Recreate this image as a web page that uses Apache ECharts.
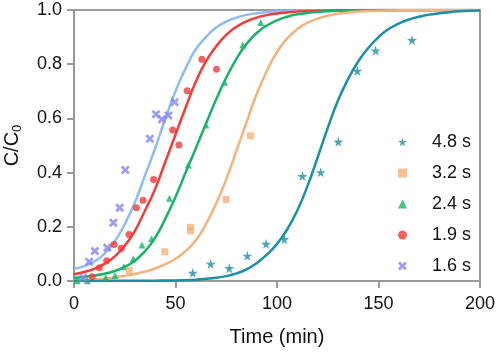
<!DOCTYPE html>
<html>
<head>
  <meta charset="UTF-8">
  <title>Breakthrough curves</title>
  <script src="https://cdn.jsdelivr.net/npm/echarts@6/dist/echarts.min.js"></script>
  <style>
    html, body { margin: 0; padding: 0; background: #fff; }
    #chart { width: 498px; height: 352px; }
  </style>
</head>
<body>
  <div id="chart"></div>
  <script type="text/javascript">
    // measured points (time in min, C/C0)
    var t48 = [58.5, 67.3, 76.5, 85.4, 94.6, 103.6, 112.5, 121.5, 130.2, 139.6, 148.6, 166.5];
    var c48 = [0.030, 0.063, 0.047, 0.093, 0.137, 0.154, 0.387, 0.401, 0.514, 0.775, 0.850, 0.889];
    var t32 = [27.2, 44.8, 57.4, 57.4, 74.9, 86.9];
    var c32 = [0.038, 0.108, 0.185, 0.198, 0.301, 0.536];
    var t24 = [1.6, 6.6, 15.6, 20.2, 24.5, 29.2, 33.5, 38.2, 47.0, 56.3, 65.0, 74.2, 83.1, 92.0];
    var c24 = [0.001, 0.001, 0.012, 0.020, 0.053, 0.082, 0.133, 0.156, 0.305, 0.428, 0.576, 0.733, 0.871, 0.954];
    var t19 = [9.0, 12.5, 16.1, 19.7, 23.3, 27.1, 30.7, 34.0, 39.2, 48.6, 51.7, 55.8, 63.0, 70.2];
    var c19 = [0.016, 0.049, 0.075, 0.135, 0.121, 0.172, 0.270, 0.298, 0.375, 0.557, 0.502, 0.702, 0.818, 0.781];
    var t16 = [4.6, 7.5, 10.3, 16.4, 19.4, 22.5, 25.3, 37.4, 40.4, 43.3, 46.5, 49.6];
    var c16 = [0.012, 0.071, 0.111, 0.123, 0.215, 0.270, 0.410, 0.525, 0.615, 0.597, 0.611, 0.660];

    // fitted curves, read every 5 min from 0 to 200
    var fitTime = [0, 5, 10, 15, 20, 25, 30, 35, 40, 45, 50, 55, 60, 65, 70, 75, 80, 85, 90, 95,
      100, 105, 110, 115, 120, 125, 130, 135, 140, 145, 150, 155, 160, 165, 170, 175, 180, 185, 190, 195, 200];
    var fit48 = [0.000, 0.000, 0.000, 0.000, 0.001, 0.001, 0.001, 0.001, 0.001, 0.002, 0.002, 0.003, 0.005, 0.008,
      0.012, 0.018, 0.028, 0.043, 0.066, 0.097, 0.137, 0.190, 0.260, 0.350, 0.455, 0.565, 0.665, 0.745, 0.810,
      0.860, 0.900, 0.930, 0.950, 0.965, 0.975, 0.983, 0.988, 0.992, 0.995, 0.997, 0.998];
    var fit32 = [0.003, 0.004, 0.006, 0.009, 0.013, 0.019, 0.026, 0.035, 0.046, 0.062, 0.082, 0.110, 0.150, 0.210,
      0.285, 0.375, 0.480, 0.585, 0.690, 0.775, 0.845, 0.895, 0.930, 0.953, 0.968, 0.979, 0.986, 0.991, 0.994,
      0.996, 0.997, 0.998, 0.999, 0.999, 1, 1, 1, 1, 1, 1, 1];
    var fit24 = [0.012, 0.015, 0.020, 0.027, 0.037, 0.052, 0.075, 0.110, 0.160, 0.230, 0.310, 0.400, 0.490, 0.580,
      0.670, 0.750, 0.820, 0.875, 0.915, 0.943, 0.962, 0.975, 0.984, 0.989, 0.993, 0.995, 0.997, 0.998, 0.999,
      0.999, 1, 1, 1, 1, 1, 1, 1, 1, 1, 1, 1];
    var fit19 = [0.025, 0.033, 0.045, 0.063, 0.090, 0.130, 0.185, 0.260, 0.340, 0.440, 0.540, 0.640, 0.735, 0.810,
      0.865, 0.908, 0.938, 0.958, 0.972, 0.981, 0.987, 0.991, 0.994, 0.996, 0.997, 0.998, 0.999, 0.999, 1,
      1, 1, 1, 1, 1, 1, 1, 1, 1, 1, 1, 1];
    var fit16 = [0.045, 0.055, 0.072, 0.100, 0.145, 0.210, 0.290, 0.390, 0.490, 0.600, 0.700, 0.785, 0.855, 0.900,
      0.935, 0.957, 0.972, 0.982, 0.988, 0.992, 0.995, 0.997, 0.998, 0.999, 0.999, 1, 1, 1, 1,
      1, 1, 1, 1, 1, 1, 1, 1, 1, 1, 1, 1];

    var xTicks = [0, 50, 100, 150, 200];
    var yTicks = [0, 0.2, 0.4, 0.6, 0.8, 1.0];
    var legendNames = ['4.8 s', '3.2 s', '2.4 s', '1.9 s', '1.6 s'];

    var colors = {
      '4.8 s': '#1a8fa8',
      '3.2 s': '#f5b27a',
      '2.4 s': '#16b466',
      '1.9 s': '#f23a36',
      '1.6 s': '#8dbcf2'
    };
    var starPath = 'path://M50,0 L61,35 L98,35 L68,57 L79,91 L50,70 L21,91 L32,57 L2,35 L39,35 Z';
    var crossPath = 'path://M0,22 L22,0 L50,28 L78,0 L100,22 L72,50 L100,78 L78,100 L50,72 L22,100 L0,78 L28,50 Z';

    function pairs(xs, ys) {
      return xs.map(function (x, i) { return [x, ys[i]]; });
    }

    function fitLine(name, ys) {
      return {
        type: 'line',
        name: name + ' fit',
        data: pairs(fitTime, ys),
        smooth: true,
        showSymbol: false,
        silent: true,
        lineStyle: { color: colors[name], width: 2.5 },
        z: 2
      };
    }

    function points(name, xs, ys, symbol, size, color) {
      return {
        type: 'scatter',
        name: name,
        data: pairs(xs, ys),
        symbol: symbol,
        symbolSize: size,
        itemStyle: { color: color || colors[name] },
        z: 3
      };
    }

    var chart = echarts.init(document.getElementById('chart'));
    var axisGray = '#9a9a9a';
    var option = {
      animation: false,
      textStyle: { fontFamily: 'Liberation Sans, Arial, sans-serif' },
      grid: {
        left: 74, right: 18, top: 10, bottom: 71,
        outerBoundsMode: 'none',
        containLabel: false,
        show: true, borderColor: axisGray, borderWidth: 2
      },
      legend: {
        data: legendNames,
        orient: 'vertical',
        left: 393,
        top: 128,
        itemWidth: 9,
        itemHeight: 9,
        itemGap: 13,
        textStyle: { fontSize: 18, color: '#111', padding: [0, 0, 0, 20] }
      },
      xAxis: {
        type: 'value',
        min: xTicks[0],
        max: xTicks[xTicks.length - 1],
        interval: 50,
        name: 'Time (min)',
        nameLocation: 'middle',
        nameGap: 46,
        nameTextStyle: { fontSize: 20, color: '#111' },
        axisLine: { lineStyle: { color: axisGray, width: 2 } },
        axisTick: { show: true, length: 7, lineStyle: { color: axisGray, width: 2 } },
        axisLabel: { fontSize: 18, color: '#111', margin: 14 },
        splitLine: { show: false }
      },
      yAxis: {
        type: 'value',
        min: yTicks[0],
        max: yTicks[yTicks.length - 1],
        interval: 0.2,
        name: '{a|C/C}{b|0}',
        nameLocation: 'middle',
        nameGap: 50,
        nameTextStyle: {
          color: '#111',
          rich: {
            a: { fontSize: 20, color: '#111' },
            b: { fontSize: 13, color: '#111', padding: [10, 0, 0, 0] }
          }
        },
        axisLine: { show: true, lineStyle: { color: axisGray, width: 2 } },
        axisTick: { show: true, length: 7, lineStyle: { color: axisGray, width: 2 } },
        axisLabel: {
          fontSize: 18, color: '#111', margin: 12,
          formatter: function (v) { return v.toFixed(1); }
        },
        splitLine: { show: false }
      },
      series: [
        fitLine('1.6 s', fit16),
        fitLine('1.9 s', fit19),
        fitLine('2.4 s', fit24),
        fitLine('3.2 s', fit32),
        fitLine('4.8 s', fit48),
        points('1.6 s', t16, c16, crossPath, 9, '#8585f2'),
        points('1.9 s', t19, c19, 'circle', 7),
        points('2.4 s', t24, c24, 'triangle', 7),
        points('3.2 s', t32, c32, 'rect', 7),
        points('4.8 s', t48, c48, starPath, 10)
      ]
    };
    chart.setOption(option);
  </script>
</body>
</html>
